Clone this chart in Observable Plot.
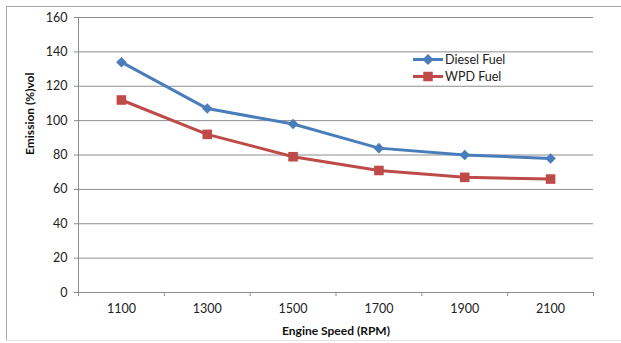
<!DOCTYPE html>
<html>
<head>
<meta charset="utf-8">
<script src="https://cdn.jsdelivr.net/npm/d3@7"></script>
<script src="https://cdn.jsdelivr.net/npm/@observablehq/plot@0.6"></script>
<style>
  html, body { margin: 0; padding: 0; background: #fff; }
  #wrap { position: relative; width: 621px; height: 343px; overflow: hidden; font-family: Lato, "Open Sans", sans-serif; }
  .bt { position: absolute; left: 6px; top: 6px; width: 615px; height: 0; border-top: 1px solid #a8a8a8; }
  .bl { position: absolute; left: 6px; top: 6px; width: 0; height: 335px; border-left: 1px solid #a8a8a8; }
  .bb { position: absolute; left: 6px; top: 340px; width: 615px; height: 0; border-top: 1px solid #e4e4e4; }
  #legend { position: absolute; left: 413px; top: 51px; font-size: 12.5px; color: #222; line-height: 17px; }
  #legend .row { display: flex; align-items: center; height: 17px; }
  #legend svg { margin-right: 1px; }
  #chart { position: absolute; left: 0; top: 0; }
</style>
</head>
<body>
<div id="wrap">
  <div id="chart"></div>
  <div class="bt"></div><div class="bl"></div><div class="bb"></div>
  <div id="legend"></div>
</div>
<script>
const speeds = [1100, 1300, 1500, 1700, 1900, 2100];
const diesel = [134, 107, 98, 84, 80, 78];
const wpd = [112, 92, 79, 71, 67, 66];
const seriesNames = ["Diesel Fuel", "WPD Fuel"];
const seriesColors = ["#4A7EBB", "#BE4B48"];
const yTicks = [0, 20, 40, 60, 80, 100, 120, 140, 160];
const xBounds = [1000, 1200, 1400, 1600, 1800, 2000, 2200];
const xLabel = "Engine Speed (RPM)";
const yLabel = "Emission (%)vol";

const rows = [];
speeds.forEach((s, i) => {
  rows.push({speed: s, value: diesel[i], series: seriesNames[0]});
  rows.push({speed: s, value: wpd[i], series: seriesNames[1]});
});

// square-proportioned diamond (rotated square)
const squareDiamond = {
  draw(context, size) {
    const r = Math.sqrt(size / 2);
    context.moveTo(0, -r);
    context.lineTo(r, 0);
    context.lineTo(0, r);
    context.lineTo(-r, 0);
    context.closePath();
  }
};

const grid = "#8c8c8c";
const chart = Plot.plot({
  width: 621,
  height: 343,
  marginLeft: 78,
  marginRight: 28,
  marginTop: 17,
  marginBottom: 51,
  style: {fontFamily: "Lato, 'Open Sans', sans-serif", fontSize: "12px", color: "#222", background: "transparent"},
  x: {type: "linear", domain: [xBounds[0], xBounds[xBounds.length - 1]]},
  y: {domain: [yTicks[0], yTicks[yTicks.length - 1]]},
  color: {domain: seriesNames, range: seriesColors},
  marks: [
    Plot.gridY(yTicks, {stroke: grid, strokeOpacity: 1, strokeWidth: 1}),
    Plot.ruleY([yTicks[0]], {stroke: grid, strokeWidth: 1}),
    Plot.ruleX([xBounds[0]], {stroke: grid, strokeWidth: 1}),
    Plot.axisY({ticks: yTicks, tickSize: 4, tickPadding: 7, stroke: grid, label: null, fill: "#222", fontSize: 12.5}),
    Plot.axisX({ticks: xBounds, tickSize: 4, tickFormat: () => "", stroke: grid, label: null}),
    Plot.axisX({ticks: speeds, tickSize: 0, tickPadding: 12, tickFormat: d => String(d), label: null, fill: "#222", fontSize: 12.5}),
    Plot.line(rows, {x: "speed", y: "value", z: "series", stroke: "series", strokeWidth: 3, curve: "linear"}),
    Plot.dot(rows.filter(d => d.series === seriesNames[0]), {x: "speed", y: "value", symbol: squareDiamond, r: 4.2, fill: seriesColors[0], stroke: "none"}),
    Plot.dot(rows.filter(d => d.series === seriesNames[1]), {x: "speed", y: "value", symbol: "square", r: 5.4, fill: seriesColors[1], stroke: "none"}),
    Plot.text([yLabel], {frameAnchor: "left", rotate: -90, dx: -48, fontWeight: "bold", fontSize: 12, fill: "#111"}),
    Plot.text([xLabel], {frameAnchor: "bottom", lineAnchor: "middle", dy: 39, fontWeight: "bold", fontSize: 12, fill: "#111"})
  ]
});
document.getElementById("chart").appendChild(chart);

// legend
const legend = d3.select("#legend");
seriesNames.forEach((name, i) => {
  const row = legend.append("div").attr("class", "row");
  const svg = row.append("svg").attr("width", 31).attr("height", 17);
  svg.append("line").attr("x1", 0).attr("x2", 30).attr("y1", 8.5).attr("y2", 8.5)
    .attr("stroke", seriesColors[i]).attr("stroke-width", 3);
  const sym = i === 0 ? squareDiamond : d3.symbolSquare;
  const size = i === 0 ? 60 : 90;
  svg.append("path").attr("d", d3.symbol(sym, size)()).attr("transform", "translate(15,8.5)").attr("fill", seriesColors[i]);
  row.append("span").text(name);
});
</script>
</body>
</html>
